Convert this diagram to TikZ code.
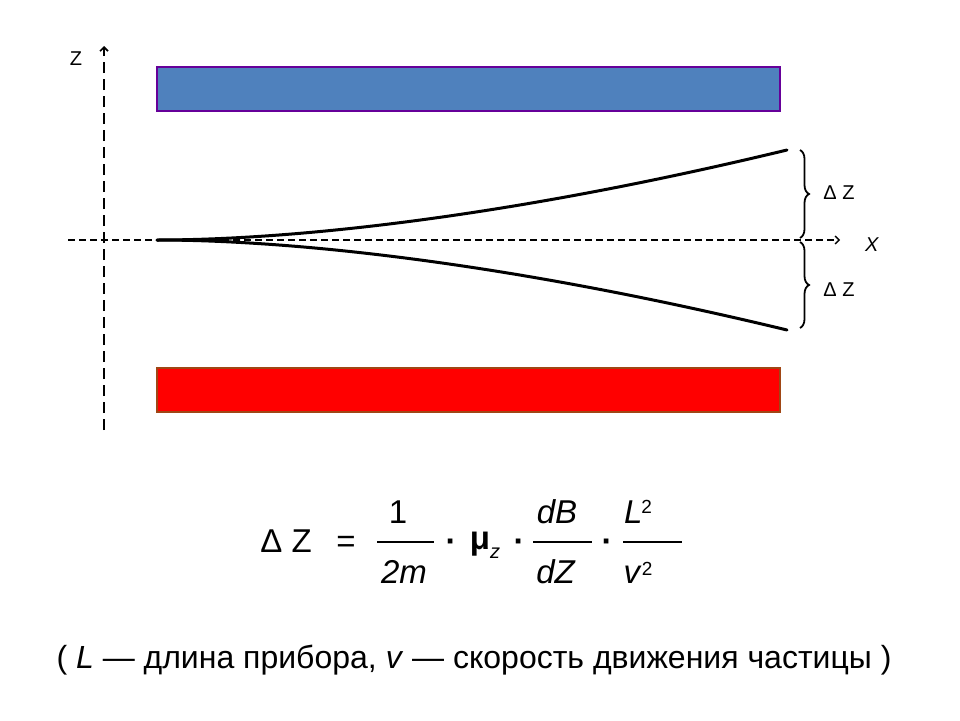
\documentclass[tikz,border=0pt]{standalone}
\usepackage{fontspec}
\setmainfont{Liberation Sans}
\usepackage{tikz}
\usetikzlibrary{arrows.meta}
\usetikzlibrary{decorations.pathreplacing}

\tikzset{
	axisline/.style={line width=1.6pt,-{Straight Barb[length=4pt,width=8pt]}},
	path/.style={line width=3pt,line cap=round},
	plate/.style={line width=2pt},
	bracemark/.style={decorate,decoration={brace,amplitude=9pt},line width=1.8pt},
	small/.style={font=\fontsize{20}{24}\selectfont},
	big/.style={font=\fontsize{33}{38}\selectfont,anchor=base,inner sep=0pt},
	fracbar/.style={line width=1.8pt}
}
\newcommand{\supr}[2]{\raisebox{#1}{\fontsize{19}{22}\selectfont #2}}

\begin{document}
\begin{tikzpicture}[x=1pt,y=-1pt]
	\useasboundingbox (0,0) rectangle (960,720);
% axes
	\draw[axisline,dash pattern=on 11pt off 6pt] (104,430) coordinate (zfoot) -- (104,46) coordinate (ztip);
	\draw[axisline,line width=1.4pt,dash pattern=on 7pt off 4pt] (68,240) coordinate (xfoot) -- (840,240) coordinate (xtip);
	\draw (76,59) node[small] (zlabel) {Z};
	\draw (872,245) node[small] (xlabel) {\textit{X}};
% magnets
	\draw[plate,draw=violet!80!blue,fill={rgb,255:red,79;green,129;blue,189}] (157,67) rectangle (780,111);
	\draw[plate,draw={rgb,255:red,160;green,70;blue,20},fill=red] (157,368) rectangle (780,412);
% split beam
	\draw[path] (157,240) coordinate (src) .. controls (270,240) and (480,224) .. (787,150) coordinate (up);
	\draw[path] (src) .. controls (270,240) and (480,256) .. (787,330) coordinate (down);
% braces
	\draw[bracemark] (800,150) -- (800,238);
	\draw[bracemark] (800,242) -- (800,328);
	\draw (839,193) node[small] (dzup) {Δ Z};
	\draw (839,290) node[small] (dzdown) {Δ Z};
% formula
	\draw (286,552) node[big] (dz) {Δ Z};
	\draw (346,552) node[big] (eq) {=};
	\draw (398,523) node[big] (one) {1} (404,583) node[big] (twom) {\textit{2m}};
	\draw[fracbar] (377,542) -- (434,542);
	\draw (451,552) node[big] (dota) {\textbf{·}};
	\draw (485,549) node[big] (mu) {\textbf{μ}\raisebox{-9pt}{\fontsize{20}{22}\selectfont\textit{z}}};
	\draw (519,552) node[big] (dotb) {\textbf{·}};
	\draw (557,523) node[big] (db) {\textit{dB}} (556,583) node[big] (dzz) {\textit{dZ}};
	\draw[fracbar] (533,542) -- (592,542);
	\draw (607,552) node[big] (dotc) {\textbf{·}};
	\draw (638,523) node[big] (ll) {\textit{L}\kern-1pt\supr{10pt}{2}};
	\draw (638,583) node[big] (vv) {\textit{v}\supr{8pt}{2}};
	\draw[fracbar] (623,542) -- (682,542);
% note
	\draw (474,660) node[font=\fontsize{32}{36}\selectfont] (note) {( \textit{L} — длина прибора, \textit{v} — скорость движения частицы )};
\end{tikzpicture}
\end{document}
